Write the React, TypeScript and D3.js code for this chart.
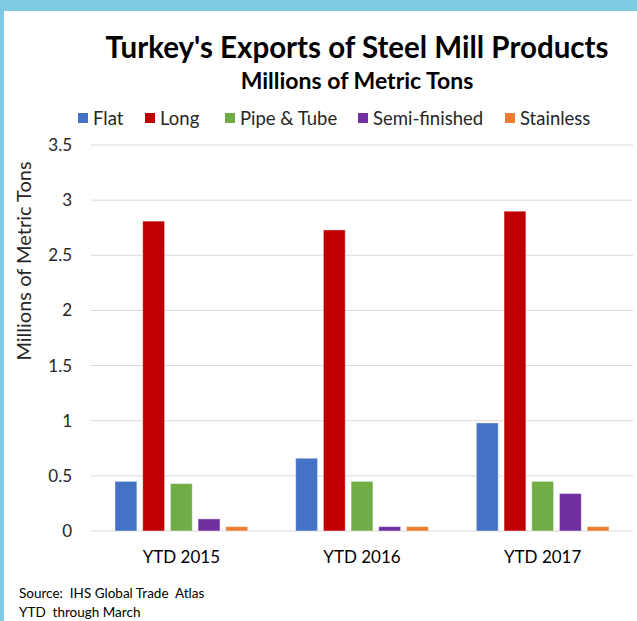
import React from 'react';
import * as d3 from 'd3';

const periods = ['YTD 2015', 'YTD 2016', 'YTD 2017'];
const series = ['Flat', 'Long', 'Pipe & Tube', 'Semi-finished', 'Stainless'];
const colors = ['#4472c4', '#c00000', '#70ad47', '#7030a0', '#ed7d31'];

// millions of metric tons, per period
const flat = [0.45, 0.66, 0.98];
const long = [2.81, 2.73, 2.9];
const pipeTube = [0.43, 0.45, 0.45];
const semiFinished = [0.11, 0.04, 0.34];
const stainless = [0.04, 0.04, 0.04];

const yTicks = [0, 0.5, 1, 1.5, 2, 2.5, 3, 3.5];

const values = [flat, long, pipeTube, semiFinished, stainless];

const W = 637;
const H = 621;
const font = 'Lato, "Open Sans", sans-serif';

// legend layout
const legendX = [78, 145, 225, 358, 505];

const App: React.FC = () => {
  const y = d3.scaleLinear().domain([0, 3.5]).range([531, 145]);
  const x0 = d3.scaleBand<string>().domain(periods).range([91, 633]).padding(0);
  const x1 = d3
    .scaleBand<string>()
    .domain(series)
    .range([24, x0.bandwidth() - 24])
    .paddingInner(0.21);

  return (
    <svg
      width={W}
      height={H}
      style={{ position: 'absolute', left: 0, top: 0, background: '#fff' }}
      fontFamily={font}
    >
      <rect x={0} y={0} width={W} height={H} fill="#fff" />
      {/* frame */}
      <rect x={0} y={0} width={W} height={11} fill="#7ecbe3" />
      <rect x={0} y={0} width={4} height={H} fill="#7ecbe3" />

      <text x={357} y={58} textAnchor="middle" fontSize={29.5} fontWeight="bold" fill="#000">
        Turkey's Exports of Steel Mill Products
      </text>
      <text x={357} y={89} textAnchor="middle" fontSize={23} fontWeight="bold" fill="#000">
        Millions of Metric Tons
      </text>

      {series.map((s, i) => (
        <g key={s} transform={`translate(${legendX[i]},118)`}>
          <rect x={0} y={-5} width={10} height={10} fill={colors[i]} />
          <text x={15} y={6.5} fontSize={18.5} fill="#262626">
            {s}
          </text>
        </g>
      ))}

      {yTicks.map((t) => (
        <g key={t}>
          <line x1={91} x2={633} y1={y(t)} y2={y(t)} stroke="#d9d9d9" strokeWidth={1} />
          <text x={72} y={y(t) + 6} textAnchor="end" fontSize={17} fill="#262626">
            {t}
          </text>
        </g>
      ))}

      <text
        transform="translate(31,261) rotate(-90)"
        textAnchor="middle"
        fontSize={20}
        fill="#262626"
      >
        Millions of Metric Tons
      </text>

      {periods.map((p, pi) => (
        <g key={p} transform={`translate(${x0(p)},0)`}>
          {series.map((s, si) => (
            <rect
              key={s}
              x={x1(s)}
              y={y(values[si][pi])}
              width={x1.bandwidth()}
              height={y(0) - y(values[si][pi])}
              fill={colors[si]}
              stroke="#fff"
              strokeOpacity={0.45}
              strokeWidth={1}
            />
          ))}
          <text
            x={x0.bandwidth() / 2}
            y={563}
            textAnchor="middle"
            fontSize={17}
            fill="#000"
          >
            {p}
          </text>
        </g>
      ))}

      <text x={19} y={598} fontSize={13.5} fill="#000" style={{ whiteSpace: 'pre' }}>
        {'Source:  IHS Global Trade  Atlas'}
      </text>
      <text x={19} y={617} fontSize={13.5} fill="#000" style={{ whiteSpace: 'pre' }}>
        {'YTD  through March'}
      </text>
    </svg>
  );
};

export default App;
